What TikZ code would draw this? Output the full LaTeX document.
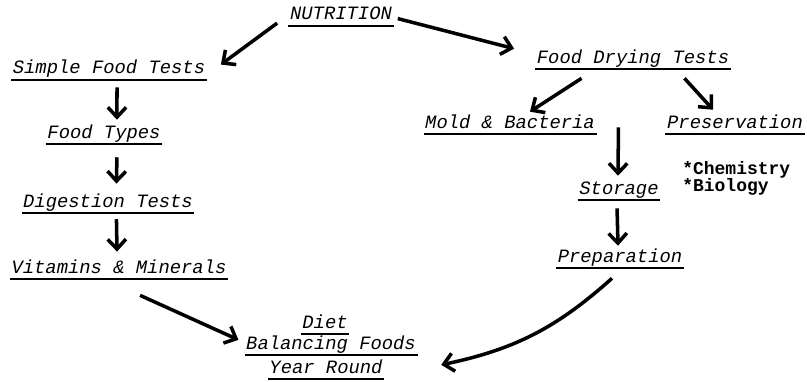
\documentclass[tikz,border=0pt]{standalone}
\usepackage{fontspec}
\setmainfont{Liberation Mono}
\usepackage{tikz}
\usetikzlibrary{arrows.meta}

\begin{document}
\begin{tikzpicture}[x=0.025cm, y=-0.025cm,
    topic/.style={font=\fontsize{13.4pt}{15pt}\selectfont\itshape, inner sep=1pt, anchor=base, text height=9pt, text depth=3pt,
        append after command={(\tikzlastnode.south west) edge[line width=1.5pt, -] (\tikzlastnode.south east)}},
    note/.style={font=\fontsize{12.8pt}{15pt}\selectfont\bfseries, inner sep=0pt, anchor=base west},
    flow/.style={-{Straight Barb[length=7pt, width=13pt]}, line width=2.5pt}]
    \useasboundingbox (0,0) rectangle (807,381);

    \node [topic] (nut) at (341,20) {NUTRITION};
    \node [topic] (sim) at (109,74) {Simple Food Tests};
    \node [topic] (typ) at (104,138) {Food Types};
    \node [topic] (dig) at (108,207) {Digestion Tests};
    \node [topic] (vit) at (119,273) {Vitamins \& Minerals};
    \node [topic] (diet) at (325,328) {Diet};
    \node [topic] (bal) at (331,349) {Balancing Foods};
    \node [topic] (yr) at (326,373) {Year Round};
    \node [topic] (fdt) at (633,63) {Food Drying Tests};
    \node [topic] (mold) at (510,128) {Mold \& Bacteria};
    \node [topic] (pres) at (735,128) {Preservation};
    \node [note] (chem) at (682,174) {*Chemistry};
    \node [note] (bio) at (682,191) {*Biology};
    \node [topic] (sto) at (619,194) {Storage};
    \node [topic] (prep) at (620,262) {Preparation};

    \draw [flow] ([xshift=-8pt, yshift=2pt]nut.south west) -- ([xshift=10pt, yshift=-3.5pt]sim.north east);
    \draw [flow] ([xshift=3pt, yshift=-2pt]nut.east) -- ([xshift=-15pt]fdt.north west);
    \draw [flow] ([xshift=5.7pt, yshift=-5.3pt]sim.south) -- ([xshift=9.2pt, yshift=2.8pt]typ.north);
    \draw [flow] ([xshift=9.2pt, yshift=-9.5pt]typ.south) -- ([xshift=6pt, yshift=6.4pt]dig.north);
    \draw [flow] ([xshift=6pt, yshift=-4.5pt]dig.south) -- ([xshift=-1.4pt, yshift=5pt]vit.north);
    \draw [flow] ([xshift=15pt, yshift=-11.7pt]vit.south) -- ([xshift=-4.3pt, yshift=3.5pt]bal.west);
    \draw [flow] ([xshift=-36.6pt, yshift=-6.7pt]fdt.south) -- ([xshift=14.2pt, yshift=1.4pt]mold.north);
    \draw [flow] ([xshift=36.6pt, yshift=-6.7pt]fdt.south) -- ([xshift=-15.6pt, yshift=2.8pt]pres.north);
    \draw [flow] ([xshift=15.6pt, yshift=4.7pt]mold.south east) -- ([xshift=-0.7pt, yshift=2.8pt]sto.north);
    \draw [flow] ([xshift=-1.4pt, yshift=-6pt]sto.south) -- ([xshift=-1.4pt, yshift=1.4pt]prep.north);
    \draw [flow] ([xshift=-5.7pt, yshift=-7.4pt]prep.south) to[bend left=15] ([xshift=40.5pt, yshift=2.8pt]yr.east);
\end{tikzpicture}
\end{document}
